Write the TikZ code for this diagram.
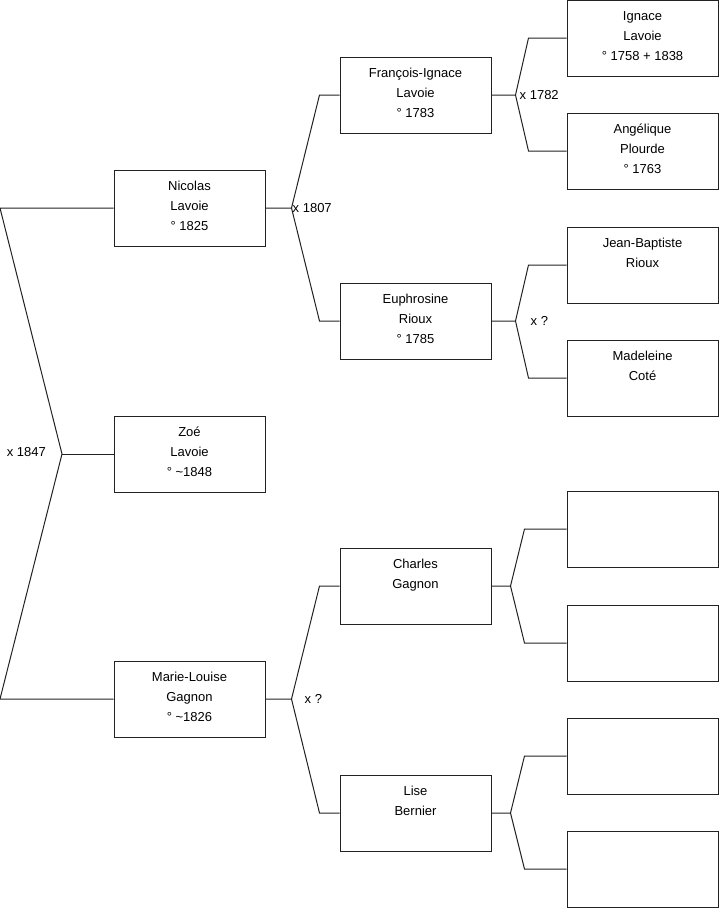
\documentclass[tikz,border=0pt]{standalone}
\usepackage{fontspec}
\setmainfont{Liberation Sans}
\definecolor{linegray}{HTML}{222222}
\newcommand{\rowstrut}{\rule[-8pt]{0pt}{20pt}}

\begin{document}
\begin{tikzpicture}[x=1pt,y=-1pt,
  personbox/.style={draw=linegray,line width=1pt,minimum width=151pt,minimum height=76pt,
    inner sep=0pt,align=center,font=\fontsize{13}{20}\selectfont},
  union/.style={font=\fontsize{13}{16}\selectfont,inner sep=0pt},
  branch/.style={draw=linegray,line width=1pt}]
\useasboundingbox (0,0) rectangle (719,908);
% generation 1
\node[personbox] (nicolas) at (189.5,208) {\rowstrut Nicolas\\\rowstrut Lavoie\\\rowstrut ° 1825};
\node[personbox] (zoe) at (189.5,454) {\rowstrut Zoé\\\rowstrut Lavoie\\\rowstrut ° \textasciitilde1848};
\node[personbox] (marie) at (189.5,699) {\rowstrut Marie-Louise\\\rowstrut Gagnon\\\rowstrut ° \textasciitilde1826};
% generation 2
\node[personbox] (francois) at (415.5,95) {\rowstrut François-Ignace\\\rowstrut Lavoie\\\rowstrut ° 1783};
\node[personbox] (euphrosine) at (415.5,321) {\rowstrut Euphrosine\\\rowstrut Rioux\\\rowstrut ° 1785};
\node[personbox] (charles) at (415.5,586) {\rowstrut Charles\\\rowstrut Gagnon\\\rowstrut};
\node[personbox] (lise) at (415.5,813) {\rowstrut Lise\\\rowstrut Bernier\\\rowstrut};
% generation 3
\node[personbox] (ignace) at (642.5,38) {\rowstrut Ignace\\\rowstrut Lavoie\\\rowstrut ° 1758 + 1838};
\node[personbox] (angelique) at (642.5,151) {\rowstrut Angélique\\\rowstrut Plourde\\\rowstrut ° 1763};
\node[personbox] (jeanbaptiste) at (642.5,265) {\rowstrut Jean-Baptiste\\\rowstrut Rioux\\\rowstrut};
\node[personbox] (madeleine) at (642.5,378) {\rowstrut Madeleine\\\rowstrut Coté\\\rowstrut};
\node[personbox] (emptyA) at (642.5,529) {};
\node[personbox] (emptyB) at (642.5,643) {};
\node[personbox] (emptyC) at (642.5,756) {};
\node[personbox] (emptyD) at (642.5,869) {};
% forks
\coordinate (root-top) at (0,208);
\coordinate (root-v) at (62,454);
\coordinate (root-bot) at (0,699);
\draw[branch] (nicolas.west) -- (root-top) -- (root-v) -- (root-bot) -- (marie.west);
\draw[branch] (root-v) -- (zoe.west);
\foreach \kid/\pa/\ma/\dv/\dc in {nicolas/francois/euphrosine/26/20,
    francois/ignace/angelique/24/38, euphrosine/jeanbaptiste/madeleine/24/38,
    marie/charles/lise/26/20, charles/emptyA/emptyB/19/42, lise/emptyC/emptyD/19/42}{
  \coordinate (\kid-v) at ([xshift=\dv pt]\kid.east);
  \draw[branch] (\kid.east) -- (\kid-v) -- ([xshift=-\dc pt]\pa.west) -- (\pa.west);
  \draw[branch] (\kid-v) -- ([xshift=-\dc pt]\ma.west) -- (\ma.west);
}
% marriages
\node[union,anchor=east] (m1847) at ([xshift=-16pt,yshift=2pt]root-v) {x 1847};
\node[union,anchor=west] (m1807) at ([xshift=1pt]nicolas-v) {x 1807};
\node[union,anchor=west] (m1782) at ([xshift=4pt]francois-v) {x 1782};
\node[union,anchor=west] (meuph) at ([xshift=15pt]euphrosine-v) {x ?};
\node[union,anchor=west] (mmarie) at ([xshift=13pt]marie-v) {x ?};
\end{tikzpicture}
\end{document}
